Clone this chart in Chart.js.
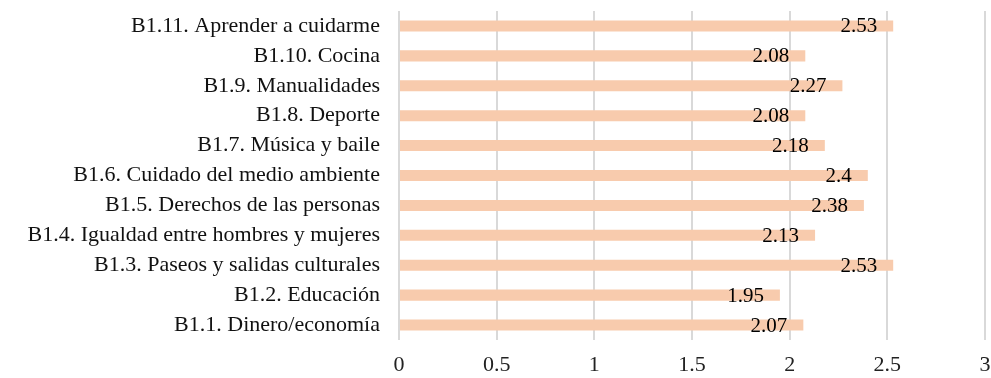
<!DOCTYPE html>
<html>
<head>
<meta charset="utf-8">
<script src="https://cdn.jsdelivr.net/npm/chart.js@4/dist/chart.umd.min.js"></script>
<style>
  html, body { margin: 0; padding: 0; background: #fff; }
  #wrap { width: 991px; height: 378px; }
</style>
</head>
<body>
<div id="wrap"><canvas id="chart" width="991" height="378"></canvas></div>
<script>
const categories = [
  'B1.11. Aprender a cuidarme',
  'B1.10. Cocina',
  'B1.9. Manualidades',
  'B1.8. Deporte',
  'B1.7. Música y baile',
  'B1.6. Cuidado del medio ambiente',
  'B1.5. Derechos de las personas',
  'B1.4. Igualdad entre hombres y mujeres',
  'B1.3. Paseos y salidas culturales',
  'B1.2. Educación',
  'B1.1. Dinero/economía'
];
const scores = [2.53, 2.08, 2.27, 2.08, 2.18, 2.4, 2.38, 2.13, 2.53, 1.95, 2.07];
const xTicks = [0, 0.5, 1, 1.5, 2, 2.5, 3];

const serif = '"Liberation Serif", "DejaVu Serif", serif';

// value written just inside the end of every bar
const valueLabels = {
  id: 'valueLabels',
  afterDatasetsDraw(chart) {
    const ctx = chart.ctx;
    const meta = chart.getDatasetMeta(0);
    ctx.save();
    ctx.font = '21px ' + serif;
    ctx.fillStyle = '#000';
    ctx.textAlign = 'right';
    ctx.textBaseline = 'middle';
    meta.data.forEach(function(bar, i) {
      ctx.fillText(String(scores[i]), bar.x - 16, bar.y + 1);
    });
    ctx.restore();
  }
};

new Chart(document.getElementById('chart'), {
  type: 'bar',
  data: {
    labels: categories,
    datasets: [{
      data: scores,
      backgroundColor: '#F8CBAD',
      borderWidth: 0,
      categoryPercentage: 1,
      barPercentage: 0.37
    }]
  },
  options: {
    indexAxis: 'y',
    responsive: false,
    animation: false,
    layout: { padding: { left: 0, right: 0, top: 11, bottom: 0 } },
    plugins: {
      legend: { display: false },
      tooltip: { enabled: false }
    },
    scales: {
      x: {
        min: 0,
        max: 3,
        afterBuildTicks: function(axis) {
          axis.ticks = xTicks.map(v => ({ value: v }));
        },
        afterFit: function(axis) {
          axis.height = 38;
          axis.paddingRight = 6;
        },
        grid: { color: '#d9d9d9', lineWidth: 2, drawTicks: false },
        border: { display: false },
        ticks: {
          color: '#222',
          padding: 12,
          font: { family: serif, size: 22 },
          callback: function(value) { return String(value); }
        }
      },
      y: {
        afterFit: function(axis) {
          axis.width = 399;
          axis.paddingTop = 0;
          axis.paddingBottom = 0;
        },
        grid: { display: false },
        border: { display: false },
        ticks: {
          autoSkip: false,
          color: '#111',
          padding: 11,
          font: { family: serif, size: 22 }
        }
      }
    }
  },
  plugins: [valueLabels]
});
</script>
</body>
</html>
